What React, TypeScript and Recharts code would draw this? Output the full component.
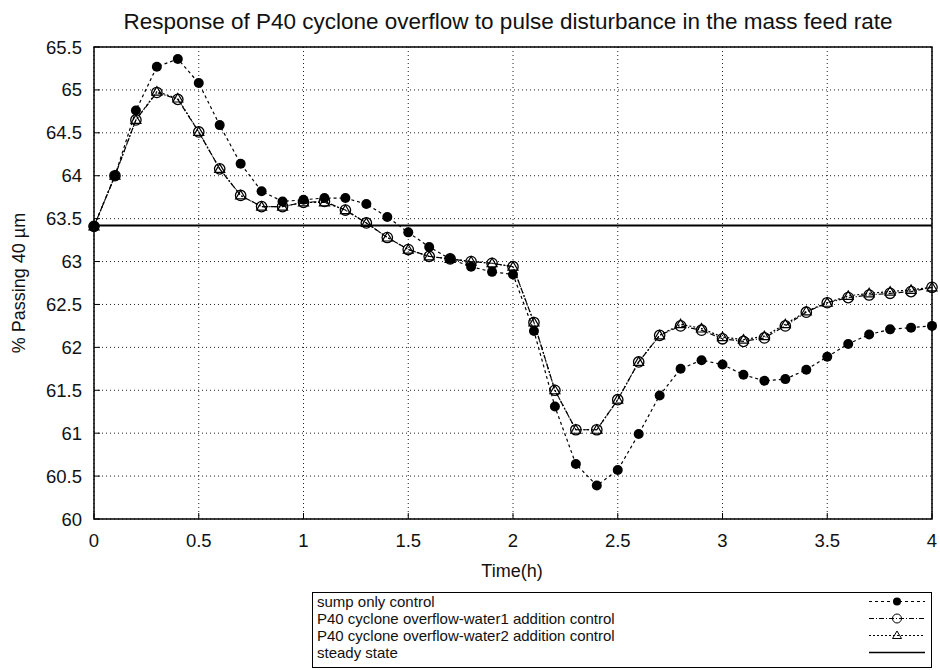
import { LineChart, Line, XAxis, YAxis, CartesianGrid, ReferenceLine, ReferenceArea } from "recharts";

const TIME = [
  0, 0.1, 0.2, 0.3, 0.4, 0.5, 0.6, 0.7, 0.8, 0.9, 1.0, 1.1, 1.2, 1.3, 1.4, 1.5, 1.6, 1.7, 1.8, 1.9, 2.0,
  2.1, 2.2, 2.3, 2.4, 2.5, 2.6, 2.7, 2.8, 2.9, 3.0, 3.1, 3.2, 3.3, 3.4, 3.5, 3.6, 3.7, 3.8, 3.9, 4.0,
];
const SUMP = [
  63.41, 64.0, 64.76, 65.27, 65.36, 65.08, 64.59, 64.14, 63.82, 63.7, 63.72, 63.74, 63.74, 63.67, 63.52, 63.34,
  63.17, 63.03, 62.94, 62.88, 62.85, 62.19, 61.31, 60.64, 60.39, 60.57, 60.99, 61.44, 61.75, 61.85, 61.8, 61.68,
  61.61, 61.63, 61.74, 61.89, 62.04, 62.15, 62.21, 62.23, 62.25,
];
const WATER1 = [
  63.41, 64.0, 64.65, 64.97, 64.89, 64.51, 64.08, 63.77, 63.64, 63.64, 63.69, 63.7, 63.6, 63.45, 63.28, 63.14,
  63.06, 63.03, 63.0, 62.98, 62.94, 62.29, 61.5, 61.04, 61.04, 61.39, 61.83, 62.14, 62.25, 62.2, 62.1, 62.07,
  62.11, 62.25, 62.41, 62.52, 62.58, 62.61, 62.63, 62.65, 62.7,
];
const WATER2 = [
  63.41, 64.0, 64.65, 64.98, 64.9, 64.51, 64.08, 63.77, 63.64, 63.64, 63.69, 63.69, 63.6, 63.45, 63.28, 63.14,
  63.06, 63.03, 63.0, 62.98, 62.94, 62.29, 61.5, 61.04, 61.04, 61.39, 61.83, 62.14, 62.27, 62.22, 62.12, 62.09,
  62.13, 62.27, 62.42, 62.52, 62.6, 62.63, 62.65, 62.67, 62.7,
];
const STEADY_STATE = 63.42;
const X_TICKS = [0, 0.5, 1, 1.5, 2, 2.5, 3, 3.5, 4];
const Y_TICKS = [60, 60.5, 61, 61.5, 62, 62.5, 63, 63.5, 64, 64.5, 65, 65.5];

const NAMES = [
  "sump only control",
  "P40 cyclone overflow-water1 addition control",
  "P40 cyclone overflow-water2 addition control",
  "steady state",
];

const data = TIME.map((t, i) => ({ t, sump: SUMP[i], w1: WATER1[i], w2: WATER2[i] }));

const FONT = "'Liberation Sans', Arial, Helvetica, sans-serif";

function FilledDot(props: any) {
  const { cx, cy, index } = props;
  if (cx == null || cy == null) return null;
  return <circle key={index} cx={cx} cy={cy} r={5} fill="#000" />;
}

function CircleDot(props: any) {
  const { cx, cy, index } = props;
  if (cx == null || cy == null) return null;
  return <circle key={index} cx={cx} cy={cy} r={5.2} fill="none" stroke="#000" strokeWidth={1.3} />;
}

function TriangleDot(props: any) {
  const { cx, cy, index } = props;
  if (cx == null || cy == null) return null;
  const s = 5;
  return (
    <path
      key={index}
      d={`M${cx},${cy - s} L${cx + s},${cy + s * 0.7} L${cx - s},${cy + s * 0.7} Z`}
      fill="none"
      stroke="#000"
      strokeWidth={1.2}
    />
  );
}

// legend samples: dash pattern + marker for each row
const SAMPLES = [
  { dash: "3 3", marker: "filled" },
  { dash: "5 2 1 2", marker: "circle" },
  { dash: "2 2", marker: "triangle" },
  { dash: undefined, marker: "none" },
];

function SampleIcon({ dash, marker }: { dash?: string; marker: string }) {
  const cx = 28;
  const cy = 8.5;
  return (
    <svg width={56} height={17} style={{ display: "block" }}>
      <line x1={0} x2={56} y1={cy} y2={cy} stroke="#000" strokeWidth={marker === "none" ? 1.6 : 1} strokeDasharray={dash} />
      {marker === "filled" && <circle cx={cx} cy={cy} r={4} fill="#000" />}
      {marker === "circle" && <circle cx={cx} cy={cy} r={4.5} fill="none" stroke="#000" />}
      {marker === "triangle" && (
        <path d={`M${cx},${cy - 4.5} L${cx + 4.5},${cy + 3} L${cx - 4.5},${cy + 3} Z`} fill="none" stroke="#000" />
      )}
    </svg>
  );
}

const tickFont = { fill: "#111", fontSize: 18.5, fontFamily: FONT };

export default function App() {
  return (
    <div style={{ position: "absolute", left: 0, top: 0, width: 940, height: 670, background: "#fff", fontFamily: FONT }}>
      <div
        style={{
          position: "absolute",
          left: 508,
          top: 10,
          transform: "translateX(-50%)",
          whiteSpace: "nowrap",
          fontSize: 22.5,
          lineHeight: "24px",
          color: "#111",
        }}
      >
        Response of P40 cyclone overflow to pulse disturbance in the mass feed rate
      </div>

      <div
        style={{
          position: "absolute",
          left: 19,
          top: 283,
          transform: "translate(-50%, -50%) rotate(-90deg)",
          whiteSpace: "nowrap",
          fontSize: 18,
          color: "#111",
        }}
      >
        % Passing 40 µm
      </div>

      <div
        style={{
          position: "absolute",
          left: 512,
          top: 561,
          transform: "translateX(-50%)",
          whiteSpace: "nowrap",
          fontSize: 18,
          color: "#111",
        }}
      >
        Time(h)
      </div>

      <LineChart width={940} height={670} data={data} margin={{ top: 0, right: 0, bottom: 121, left: 0 }}>
        <CartesianGrid stroke="#222" strokeDasharray="1 3" />
        <XAxis
          dataKey="t"
          type="number"
          domain={[0, 4]}
          ticks={X_TICKS}
          height={30}
          axisLine={false}
          tickSize={-6}
          tickMargin={21}
          tickLine={{ stroke: "#000" }}
          tick={tickFont}
        />
        <XAxis
          xAxisId="top"
          orientation="top"
          dataKey="t"
          type="number"
          domain={[0, 4]}
          ticks={X_TICKS}
          height={47}
          axisLine={false}
          tickSize={-6}
          tickLine={{ stroke: "#000" }}
          tick={false}
        />
        <YAxis
          type="number"
          domain={[60, 65.5]}
          ticks={Y_TICKS}
          width={94}
          axisLine={false}
          tickSize={-6}
          tickMargin={18}
          tickLine={{ stroke: "#000" }}
          tick={tickFont}
        />
        <YAxis
          yAxisId="right"
          orientation="right"
          type="number"
          domain={[60, 65.5]}
          ticks={Y_TICKS}
          width={8}
          axisLine={false}
          tickSize={-6}
          tickLine={{ stroke: "#000" }}
          tick={false}
        />
        <ReferenceArea x1={0} x2={4} y1={60} y2={65.5} fill="none" stroke="#000" strokeWidth={1.5} strokeOpacity={1} />
        <ReferenceLine y={STEADY_STATE} stroke="#000" strokeWidth={2} />
        <Line
          dataKey="w2"
          name={NAMES[2]}
          stroke="#000"
          strokeWidth={1.2}
          strokeDasharray="2 2"
          dot={TriangleDot}
          activeDot={false}
          isAnimationActive={false}
        />
        <Line
          dataKey="w1"
          name={NAMES[1]}
          stroke="#000"
          strokeWidth={1.2}
          strokeDasharray="5 2 1 2"
          dot={CircleDot}
          activeDot={false}
          isAnimationActive={false}
        />
        <Line
          dataKey="sump"
          name={NAMES[0]}
          stroke="#000"
          strokeWidth={1.2}
          strokeDasharray="3 3"
          dot={FilledDot}
          activeDot={false}
          isAnimationActive={false}
        />
      </LineChart>

      <div
        style={{
          position: "absolute",
          left: 312,
          top: 592,
          width: 618,
          height: 74,
          border: "1px solid #000",
          fontSize: 15,
          color: "#111",
        }}
      >
        {NAMES.map((name, i) => (
          <div key={name} style={{ display: "flex", alignItems: "center", height: 17, lineHeight: "17px", paddingLeft: 4 }}>
            <span style={{ flex: 1 }}>{name}</span>
            <span style={{ marginRight: 6 }}>
              <SampleIcon dash={SAMPLES[i].dash} marker={SAMPLES[i].marker} />
            </span>
          </div>
        ))}
      </div>
    </div>
  );
}
